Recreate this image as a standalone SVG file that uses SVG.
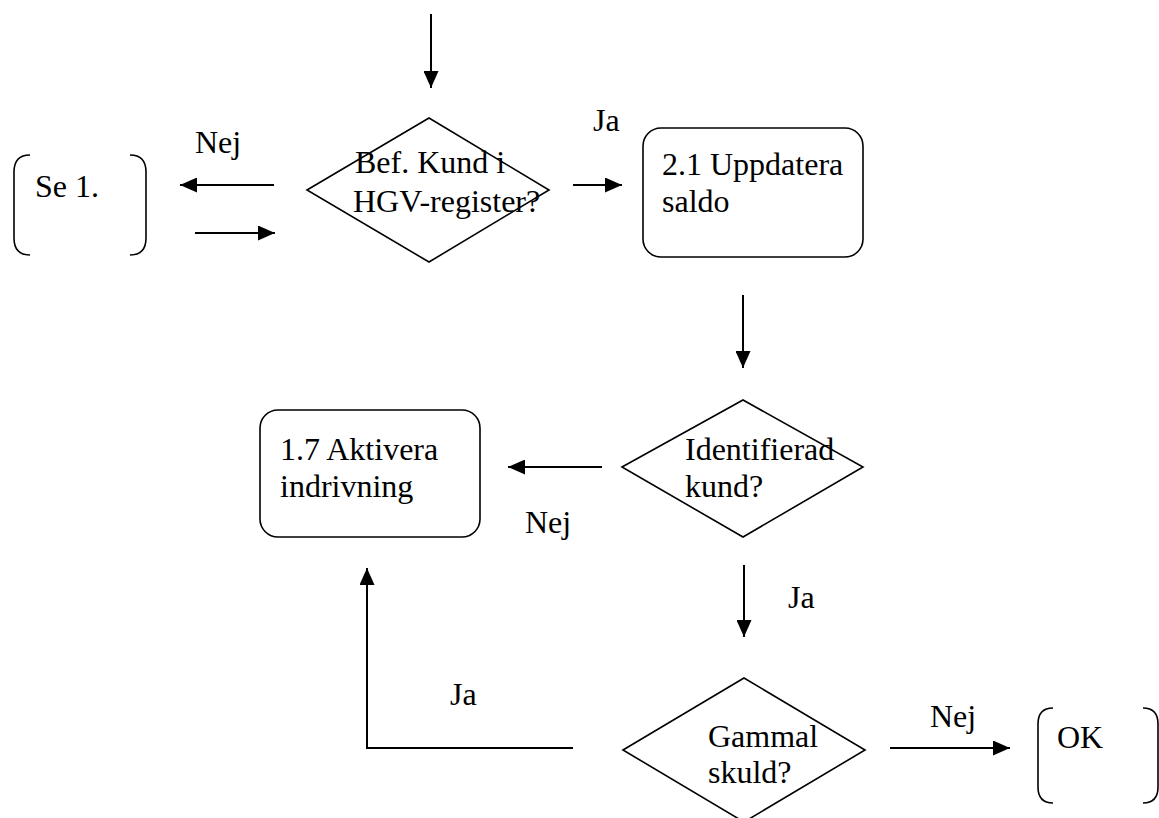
<svg xmlns="http://www.w3.org/2000/svg" width="1159" height="818" viewBox="0 0 1159 818">
<style>
  text { font-family: "Liberation Serif", "Times New Roman", serif; font-size: 32px; fill: #000; }
  .shape { fill: none; stroke: #000; stroke-width: 1.6; }
  .conn { fill: none; stroke: #000; stroke-width: 2; }
  .arr { marker-end: url(#ah); }
</style>
<defs>
  <marker id="ah" markerUnits="userSpaceOnUse" markerWidth="17" markerHeight="15" refX="17" refY="7.5" orient="auto">
    <path d="M0,0 L17,7.5 L0,15 Z" fill="#000"/>
  </marker>
</defs>
<rect width="1159" height="818" fill="#fff"/>

<g id="connectors">
  <line class="conn arr" x1="431" y1="14" x2="431" y2="88"/>
  <line class="conn arr" x1="274" y1="185" x2="180" y2="185"/>
  <line class="conn arr" x1="195" y1="233" x2="275" y2="233"/>
  <line class="conn arr" x1="573" y1="185" x2="622" y2="185"/>
  <line class="conn arr" x1="743" y1="295" x2="743" y2="368"/>
  <line class="conn arr" x1="602" y1="467" x2="508" y2="467"/>
  <line class="conn arr" x1="744" y1="565" x2="744" y2="637"/>
  <polyline class="conn arr" points="573,748 367,748 367,568"/>
  <line class="conn arr" x1="890" y1="748" x2="1010" y2="748"/>
  <text x="195" y="153">Nej</text>
  <text x="593" y="131">Ja</text>
  <text x="525" y="533">Nej</text>
  <text x="788" y="608">Ja</text>
  <text x="450" y="705">Ja</text>
  <text x="930" y="727">Nej</text>
</g>

<g id="se1">
  <path class="shape" d="M30,155 Q14,155 14,172 L14,238 Q14,255 30,255 M130,155 Q146,155 146,172 L146,238 Q146,255 130,255"/>
  <text x="35" y="197">Se 1.</text>
</g>

<g id="dec-hgv">
  <polygon class="shape" points="307,190 429,118 549,190 429,262"/>
  <text x="355" y="173">Bef. Kund i</text>
  <text x="353" y="212">HGV-register?</text>
</g>

<g id="box-21">
  <rect class="shape" x="643" y="128" width="220" height="129" rx="18" ry="18"/>
  <text x="662" y="175">2.1 Uppdatera</text>
  <text x="662" y="212">saldo</text>
</g>

<g id="dec-ident">
  <polygon class="shape" points="622,467 743,400 863,467 743,537"/>
  <text x="685" y="460">Identifierad</text>
  <text x="685" y="497">kund?</text>
</g>

<g id="box-17">
  <rect class="shape" x="260" y="410" width="220" height="127" rx="18" ry="18"/>
  <text x="280" y="460">1.7 Aktivera</text>
  <text x="280" y="497">indrivning</text>
</g>

<g id="dec-gammal">
  <polygon class="shape" points="623,750 744,678 865,750 744,822"/>
  <text x="708" y="747">Gammal</text>
  <text x="708" y="783">skuld?</text>
</g>

<g id="ok">
  <path class="shape" d="M1053,708 Q1038,708 1038,724 L1038,787 Q1038,803 1053,803 M1143,708 Q1158,708 1158,724 L1158,787 Q1158,803 1143,803"/>
  <text x="1057" y="748">OK</text>
</g>
</svg>
